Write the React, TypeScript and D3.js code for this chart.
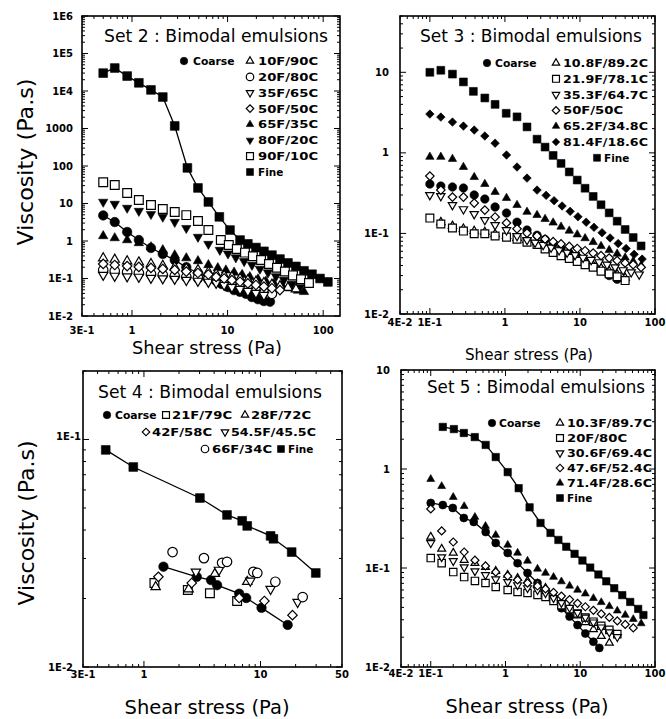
import React from "react";
import * as d3 from "d3";

// ================= Set 2 data (shear stress Pa, viscosity Pa.s) =================
const s2CoarseX = [0.5, 0.66, 0.89, 1.18, 1.58, 2.1, 2.8, 3.7, 4.9, 6.3, 7.6, 8.7, 10.1, 11.7, 13.5, 15.6, 18, 20.8, 24, 27.8];
const s2CoarseY = [4.8, 3.2, 1.74, 1.06, 0.65, 0.45, 0.31, 0.2, 0.14, 0.103, 0.086, 0.071, 0.059, 0.049, 0.044, 0.039, 0.032, 0.028, 0.025, 0.024];
const s2F10X = [0.5, 0.66, 0.89, 1.18, 1.58, 2.1, 2.8, 3.7, 4.9, 6.3, 7.6, 9.2, 11.1, 13.5, 16.3, 19.8, 24, 29.1, 35.3, 42.8, 51.9];
const s2F10Y = [0.35, 0.32, 0.29, 0.27, 0.244, 0.22, 0.2, 0.185, 0.169, 0.15, 0.132, 0.12, 0.11, 0.1, 0.091, 0.083, 0.076, 0.069, 0.063, 0.057, 0.052];
const s2F20X = [0.5, 0.66, 0.89, 1.18, 1.58, 2.1, 2.8, 3.7, 4.9, 6.3, 7.6, 9.2, 11.1, 13.5, 16.3, 19.8, 24, 29.1];
const s2F20Y = [0.169, 0.158, 0.149, 0.14, 0.132, 0.124, 0.117, 0.11, 0.103, 0.097, 0.091, 0.081, 0.071, 0.063, 0.056, 0.049, 0.044, 0.039];
const s2F35X = [0.5, 0.66, 0.89, 1.18, 1.58, 2.1, 2.8, 3.7, 4.9, 6.3, 7.6, 9.2, 11.1, 13.5, 16.3, 19.8, 24];
const s2F35Y = [0.124, 0.117, 0.113, 0.11, 0.103, 0.1, 0.097, 0.091, 0.086, 0.081, 0.076, 0.067, 0.059, 0.052, 0.046, 0.041, 0.036];
const s2F50X = [0.5, 0.66, 0.89, 1.18, 1.58, 2.1, 2.8, 3.7, 4.9, 6.3, 7.6, 9.2, 11.1, 13.5, 16.3, 19.8, 24, 29.1, 35.3];
const s2F50Y = [0.244, 0.229, 0.215, 0.203, 0.191, 0.18, 0.169, 0.153, 0.14, 0.128, 0.11, 0.1, 0.09, 0.082, 0.074, 0.067, 0.061, 0.055, 0.049];
const s2F65X = [0.5, 0.66, 0.89, 1.18, 1.58, 2.1, 2.8, 3.7, 4.9, 6.3, 7.9, 9.6, 11.7, 14.2, 17.1, 20.8, 25.2, 30.6, 37.1, 45, 54.5, 63];
const s2F65Y = [1.36, 1.2, 1.06, 0.885, 0.69, 0.575, 0.42, 0.35, 0.293, 0.23, 0.191, 0.166, 0.145, 0.126, 0.11, 0.096, 0.084, 0.073, 0.064, 0.055, 0.048, 0.044];
const s2F80X = [0.5, 0.66, 0.89, 1.18, 1.58, 2.1, 2.8, 3.7, 4.9, 6.3, 8.3, 10.1, 12.2, 14.9, 18, 21.8, 26.5, 32.1, 38.9, 47.2, 57.1];
const s2F80Y = [11, 9.7, 7.6, 6.3, 5.2, 4.4, 3.2, 2.2, 1.28, 0.83, 0.575, 0.46, 0.363, 0.288, 0.229, 0.181, 0.144, 0.114, 0.091, 0.072, 0.058];
const s2F90X = [0.5, 0.66, 0.89, 1.18, 1.58, 2.1, 2.8, 3.7, 4.9, 6.3, 8.5, 10.3, 12.5, 15.2, 18.4, 22.4, 27.1, 32.9, 39.8, 48.3, 58.6, 71];
const s2F90Y = [37, 31, 19, 12.4, 9.1, 7.1, 5.9, 4.9, 3.4, 1.96, 1.06, 0.78, 0.61, 0.49, 0.39, 0.31, 0.244, 0.194, 0.153, 0.121, 0.096, 0.076];
const s2FineX = [0.5, 0.66, 0.89, 1.18, 1.58, 2.1, 2.8, 3.8, 4.9, 6.3, 8.2, 10.6, 13.5, 16.3, 19.8, 24, 29.1, 35.3, 42.8, 51.9, 63, 76.4, 92.7, 112];
const s2FineY = [30000, 41000, 25000, 16500, 10700, 6900, 1170, 89, 26, 11, 4.4, 1.96, 1.06, 0.84, 0.67, 0.53, 0.42, 0.33, 0.26, 0.21, 0.16, 0.13, 0.1, 0.081];

// ================= Set 3 data =================
const s3CoarseX = [0.1, 0.14, 0.2, 0.28, 0.39, 0.54, 0.74, 1.05, 1.45, 1.97, 2.68, 3.43, 4.39, 5.6, 7.2, 9.2, 11.7, 15, 19.1, 24.5, 31.3];
const s3CoarseY = [0.41, 0.387, 0.377, 0.366, 0.3, 0.267, 0.213, 0.179, 0.138, 0.11, 0.095, 0.084, 0.074, 0.065, 0.057, 0.051, 0.045, 0.039, 0.035, 0.03, 0.027];
const s3F10X = [0.14, 0.2, 0.28, 0.39, 0.54, 0.74, 1.05, 1.45, 1.97, 2.68, 3.43, 4.39, 5.6, 7.2, 9.2, 11.7, 15, 19.1, 24.5, 31.3, 40];
const s3F10Y = [0.138, 0.124, 0.114, 0.107, 0.104, 0.098, 0.093, 0.088, 0.083, 0.078, 0.07, 0.064, 0.058, 0.053, 0.048, 0.044, 0.04, 0.037, 0.034, 0.031, 0.028];
const s3F21X = [0.1, 0.14, 0.2, 0.28, 0.39, 0.54, 0.74, 1.05, 1.45, 1.97, 2.68, 3.43, 4.39, 5.6, 7.2, 9.2, 11.7, 15, 19.1, 24.5, 31.3, 40];
const s3F21Y = [0.155, 0.131, 0.117, 0.107, 0.099, 0.099, 0.093, 0.09, 0.085, 0.078, 0.073, 0.064, 0.058, 0.053, 0.049, 0.045, 0.041, 0.038, 0.034, 0.0315, 0.029, 0.026];
const s3F35X = [0.1, 0.14, 0.2, 0.28, 0.39, 0.54, 0.74, 1.05, 1.45, 1.97, 2.52, 3.23, 4.12, 5.27, 6.74, 8.6, 11, 14.1, 18, 23, 29.4, 37.6, 48.1, 61.5];
const s3F35Y = [0.3, 0.291, 0.225, 0.2, 0.174, 0.147, 0.127, 0.11, 0.093, 0.083, 0.077, 0.072, 0.067, 0.062, 0.058, 0.054, 0.05, 0.047, 0.044, 0.041, 0.038, 0.035, 0.033, 0.031];
const s3F50X = [0.1, 0.14, 0.2, 0.28, 0.39, 0.54, 0.74, 1.05, 1.45, 1.97, 2.68, 3.43, 4.39, 5.6, 7.2, 9.2, 11.7, 15, 19.1, 24.5, 31.3, 40, 51.2, 65.3];
const s3F50Y = [0.515, 0.345, 0.283, 0.283, 0.238, 0.195, 0.16, 0.135, 0.114, 0.101, 0.093, 0.085, 0.079, 0.074, 0.069, 0.065, 0.061, 0.057, 0.053, 0.0495, 0.046, 0.043, 0.041, 0.038];
const s3F65X = [0.1, 0.14, 0.2, 0.28, 0.39, 0.54, 0.74, 1.05, 1.45, 1.97, 2.68, 3.43, 4.39, 5.6, 7.2, 9.2, 11.7, 15, 19.1, 24.5, 31.3, 40, 51.2, 65.3];
const s3F65Y = [0.89, 0.89, 0.84, 0.667, 0.5, 0.41, 0.327, 0.275, 0.225, 0.185, 0.169, 0.151, 0.136, 0.121, 0.108, 0.097, 0.087, 0.078, 0.0695, 0.062, 0.056, 0.05, 0.045, 0.04];
const s3F81X = [0.1, 0.14, 0.2, 0.28, 0.39, 0.54, 0.74, 1.05, 1.45, 1.97, 2.68, 3.54, 4.52, 5.78, 7.4, 9.4, 12.1, 15.4, 19.7, 25.2, 32.3, 41.2, 52.7, 67.4];
const s3F81Y = [3.03, 2.78, 2.41, 2.15, 1.92, 1.62, 1.32, 0.94, 0.667, 0.486, 0.345, 0.297, 0.255, 0.219, 0.188, 0.161, 0.138, 0.119, 0.102, 0.088, 0.075, 0.065, 0.055, 0.048];
const s3FineX = [0.1, 0.14, 0.2, 0.28, 0.38, 0.54, 0.74, 1.04, 1.45, 1.97, 2.68, 3.43, 4.39, 5.6, 7.2, 9.2, 11.7, 15, 19.1, 24.5, 31.3, 40, 51.2, 65.3];
const s3FineY = [10, 10.6, 9.5, 7.6, 5.8, 4.8, 4.0, 3.1, 2.8, 2.1, 1.48, 1.18, 0.93, 0.74, 0.58, 0.46, 0.364, 0.288, 0.227, 0.18, 0.142, 0.112, 0.089, 0.07];

// ================= Set 4 data =================
const s4CoarseX = [1.47, 2.84, 3.76, 4.24, 6.56, 7.54, 10.2, 17.1];
const s4CoarseY = [0.0276, 0.0249, 0.0241, 0.0229, 0.021, 0.0201, 0.0182, 0.0153];
const s4F21X = [1.23, 2.38, 3.68, 6.3];
const s4F21Y = [0.0234, 0.0218, 0.0211, 0.0195];
const s4F28X = [1.26, 2.42, 4.06, 7.69];
const s4F28Y = [0.0225, 0.022, 0.0257, 0.0237];
const s4F42X = [1.33, 2.57, 6.56, 10.8, 18.8];
const s4F42Y = [0.0249, 0.0234, 0.0201, 0.0195, 0.0169];
const s4F54X = [2.79, 4.4, 8.17, 12.2, 20.8];
const s4F54Y = [0.0262, 0.0267, 0.0239, 0.022, 0.0193];
const s4F66X = [1.76, 3.27, 4.68, 5.16, 8.67, 9.38, 13.4, 23];
const s4F66Y = [0.032, 0.0301, 0.0287, 0.029, 0.0262, 0.0259, 0.0237, 0.0203];
const s4FineX = [0.47, 0.81, 3.02, 5.16, 6.96, 7.69, 12.2, 12.9, 18.5, 29.8];
const s4FineY = [0.09, 0.0757, 0.0553, 0.0466, 0.0439, 0.0417, 0.0377, 0.0366, 0.032, 0.0259];

// ================= Set 5 data =================
const s5CoarseX = [0.1, 0.145, 0.197, 0.277, 0.376, 0.543, 0.74, 1.07, 1.45, 1.97, 2.68, 3.43, 4.39, 5.6, 7.2, 9.2, 11.7, 15, 18];
const s5CoarseY = [0.454, 0.432, 0.404, 0.32, 0.292, 0.231, 0.179, 0.142, 0.112, 0.089, 0.0705, 0.058, 0.0478, 0.0393, 0.0323, 0.0265, 0.0218, 0.018, 0.0156];
const s5F10X = [0.1, 0.14, 0.2, 0.28, 0.39, 0.54, 0.74, 1.07, 1.45, 1.97, 2.68, 3.43, 4.39, 5.6, 7.2, 9.2, 11.7, 15, 19.1, 24.5];
const s5F10Y = [0.206, 0.156, 0.142, 0.12, 0.112, 0.102, 0.093, 0.085, 0.079, 0.074, 0.069, 0.0628, 0.0535, 0.0456, 0.0389, 0.0331, 0.0283, 0.024, 0.0205, 0.0175];
const s5F20X = [0.1, 0.14, 0.2, 0.28, 0.39, 0.54, 0.74, 1.07, 1.45, 1.97, 2.68, 3.43, 4.39, 5.6, 7.2, 9.2, 11.7, 15, 19.1, 24.5, 31.3];
const s5F20Y = [0.126, 0.112, 0.091, 0.081, 0.074, 0.0705, 0.0643, 0.06, 0.0573, 0.0559, 0.0535, 0.0509, 0.0464, 0.0421, 0.0383, 0.0347, 0.0316, 0.0287, 0.0261, 0.0237, 0.0215];
const s5F30X = [0.1, 0.14, 0.2, 0.28, 0.39, 0.54, 0.74, 1.07, 1.45, 1.97, 2.68, 3.43, 4.39, 5.6, 7.2, 9.2, 11.7, 15, 19.1, 24.5, 31.3];
const s5F30Y = [0.179, 0.129, 0.118, 0.102, 0.093, 0.085, 0.077, 0.0723, 0.0673, 0.0628, 0.06, 0.0559, 0.0499, 0.0445, 0.0397, 0.0354, 0.0317, 0.0283, 0.0252, 0.0225, 0.0201];
const s5F47X = [0.1, 0.14, 0.2, 0.28, 0.39, 0.54, 0.74, 1.07, 1.45, 1.97, 2.68, 3.43, 4.39, 5.6, 7.2, 9.2, 11.7, 15, 19.1, 24.5, 31.3, 40, 51.2];
const s5F47Y = [0.395, 0.237, 0.183, 0.145, 0.12, 0.105, 0.091, 0.083, 0.0757, 0.0705, 0.0658, 0.0614, 0.0566, 0.052, 0.048, 0.044, 0.0406, 0.0374, 0.0344, 0.0317, 0.0292, 0.0269, 0.0248];
const s5F71X = [0.1, 0.14, 0.2, 0.28, 0.39, 0.54, 0.74, 1.07, 1.45, 1.97, 2.68, 3.43, 4.39, 5.6, 7.2, 9.2, 11.7, 15, 19.1, 24.5, 31.3, 40, 51.2, 65.3];
const s5F71Y = [0.79, 0.67, 0.52, 0.42, 0.327, 0.265, 0.215, 0.171, 0.142, 0.118, 0.098, 0.089, 0.081, 0.073, 0.066, 0.06, 0.055, 0.0495, 0.045, 0.041, 0.037, 0.0335, 0.0304, 0.0275];
const s5FineX = [0.145, 0.204, 0.277, 0.388, 0.543, 0.74, 1.07, 1.5, 2.1, 2.94, 4.0, 5.1, 6.5, 8.4, 10.7, 13.6, 17.5, 22.3, 28.5, 36.5, 46.6, 59.6, 70];
const s5FineY = [2.66, 2.53, 2.31, 2.1, 1.75, 1.32, 0.93, 0.64, 0.41, 0.285, 0.226, 0.192, 0.164, 0.139, 0.119, 0.101, 0.086, 0.0734, 0.0625, 0.0532, 0.0454, 0.0386, 0.0335];

// ================= Tick labels =================
const set2YTicks = [1e-2, 1e-1, 1, 10, 100, 1000, 1e4, 1e5, 1e6];
const set2YLabels = ["1E-2", "1E-1", "1", "10", "100", "1000", "1E4", "1E5", "1E6"];
const set2XTicks = [0.3, 1, 10, 100];
const set2XLabels = ["3E-1", "1", "10", "100"];
const set3YTicks = [1e-2, 1e-1, 1, 10];
const set3YLabels = ["1E-2", "1E-1", "1", "10"];
const set35XTicks = [0.04, 0.1, 1, 10, 100];
const set35XLabels = ["4E-2", "1E-1", "1", "10", "100"];
const set4YTicks = [1e-2, 1e-1];
const set4YLabels = ["1E-2", "1E-1"];
const set4XTicks = [0.3, 1, 10, 50];
const set4XLabels = ["3E-1", "1", "10", "50"];
const set5YTicks = [1e-2, 1e-1, 1, 10];
const set5YLabels = ["1E-2", "1E-1", "1", "10"];

type Shape = "circle" | "square" | "triangle" | "triangleDown" | "diamond";
interface Series { name: string; shape: Shape; filled: boolean; x: number[]; y: number[]; line?: boolean; }

const set2Series: Series[] = [
  { name: "Coarse", shape: "circle", filled: true, x: s2CoarseX, y: s2CoarseY, line: true },
  { name: "10F/90C", shape: "triangle", filled: false, x: s2F10X, y: s2F10Y },
  { name: "20F/80C", shape: "circle", filled: false, x: s2F20X, y: s2F20Y },
  { name: "35F/65C", shape: "triangleDown", filled: false, x: s2F35X, y: s2F35Y },
  { name: "50F/50C", shape: "diamond", filled: false, x: s2F50X, y: s2F50Y },
  { name: "65F/35C", shape: "triangle", filled: true, x: s2F65X, y: s2F65Y },
  { name: "80F/20C", shape: "triangleDown", filled: true, x: s2F80X, y: s2F80Y },
  { name: "90F/10C", shape: "square", filled: false, x: s2F90X, y: s2F90Y },
  { name: "Fine", shape: "square", filled: true, x: s2FineX, y: s2FineY, line: true },
];
const set3Series: Series[] = [
  { name: "Coarse", shape: "circle", filled: true, x: s3CoarseX, y: s3CoarseY },
  { name: "10.8F/89.2C", shape: "triangle", filled: false, x: s3F10X, y: s3F10Y },
  { name: "21.9F/78.1C", shape: "square", filled: false, x: s3F21X, y: s3F21Y },
  { name: "35.3F/64.7C", shape: "triangleDown", filled: false, x: s3F35X, y: s3F35Y },
  { name: "50F/50C", shape: "diamond", filled: false, x: s3F50X, y: s3F50Y },
  { name: "65.2F/34.8C", shape: "triangle", filled: true, x: s3F65X, y: s3F65Y },
  { name: "81.4F/18.6C", shape: "diamond", filled: true, x: s3F81X, y: s3F81Y },
  { name: "Fine", shape: "square", filled: true, x: s3FineX, y: s3FineY },
];
const set4Series: Series[] = [
  { name: "Coarse", shape: "circle", filled: true, x: s4CoarseX, y: s4CoarseY, line: true },
  { name: "21F/79C", shape: "square", filled: false, x: s4F21X, y: s4F21Y },
  { name: "28F/72C", shape: "triangle", filled: false, x: s4F28X, y: s4F28Y },
  { name: "42F/58C", shape: "diamond", filled: false, x: s4F42X, y: s4F42Y },
  { name: "54.5F/45.5C", shape: "triangleDown", filled: false, x: s4F54X, y: s4F54Y },
  { name: "66F/34C", shape: "circle", filled: false, x: s4F66X, y: s4F66Y },
  { name: "Fine", shape: "square", filled: true, x: s4FineX, y: s4FineY, line: true },
];
const set5Series: Series[] = [
  { name: "Coarse", shape: "circle", filled: true, x: s5CoarseX, y: s5CoarseY, line: true },
  { name: "10.3F/89.7C", shape: "triangle", filled: false, x: s5F10X, y: s5F10Y },
  { name: "20F/80C", shape: "square", filled: false, x: s5F20X, y: s5F20Y },
  { name: "30.6F/69.4C", shape: "triangleDown", filled: false, x: s5F30X, y: s5F30Y },
  { name: "47.6F/52.4C", shape: "diamond", filled: false, x: s5F47X, y: s5F47Y },
  { name: "71.4F/28.6C", shape: "triangle", filled: true, x: s5F71X, y: s5F71Y },
  { name: "Fine", shape: "square", filled: true, x: s5FineX, y: s5FineY, line: true },
];

// ================= layout / rendering =================
const FONT = "'DejaVu Sans', 'Liberation Sans', sans-serif";

function symPath(shape: Shape, s: number): string {
  const g = d3.symbol();
  if (shape === "circle") return g.type(d3.symbolCircle).size(Math.PI * (s / 2) * (s / 2))() as string;
  if (shape === "square") return g.type(d3.symbolSquare).size(s * s * 0.85)() as string;
  if (shape === "diamond") return g.type(d3.symbolSquare).size(s * s * 0.5)() as string;
  return g.type(d3.symbolTriangle).size(s * s * 0.42)() as string;
}
function symRot(shape: Shape) {
  if (shape === "triangleDown") return 180;
  if (shape === "diamond") return 45;
  return 0;
}
function Marker({ shape, filled, cx, cy, s }: { shape: Shape; filled: boolean; cx: number; cy: number; s: number }) {
  return (
    <path
      d={symPath(shape, s)}
      transform={`translate(${cx},${cy}) rotate(${symRot(shape)})`}
      fill={filled ? "#000" : "#fff"}
      stroke="#000"
      strokeWidth={filled ? 0.6 : 1.2}
    />
  );
}

function labelWidth(t: string, fs: number) {
  let w = 0;
  for (const ch of t) {
    if (/[0-9]/.test(ch)) w += 0.8;
    else if (ch === ".") w += 0.33;
    else if (ch === "/") w += 0.7;
    else if (ch === "i") w += 0.32;
    else if (/[A-Z]/.test(ch)) w += 0.78;
    else w += 0.6;
  }
  return w * fs;
}

function logTicks(domain: [number, number]) {
  const out: { v: number; major: boolean }[] = [];
  const e0 = Math.floor(Math.log10(domain[0]));
  const e1 = Math.ceil(Math.log10(domain[1]));
  for (let e = e0; e <= e1; e++) {
    for (let m = 1; m <= 9; m++) {
      const v = m * Math.pow(10, e);
      if (v >= domain[0] * 0.999 && v <= domain[1] * 1.001) out.push({ v, major: m === 1 });
    }
  }
  return out;
}

interface PanelCfg {
  left: number; right: number; top: number; bottom: number;
  xDomain: [number, number]; yDomain: [number, number];
  xTicks: number[]; xLabels: string[]; xLabelY: number;
  yTicks: number[]; yLabels: string[]; yLabelX: number; yLabelShift?: [number, number][];
  series: Series[]; sym: number;
  legend: [number, number, number][];
  title: string; titleX: number; titleY: number; titleW: number;
  xTitleX: number; xTitleY: number; xTitleW: number; xTitleFs: number;
  yTitle?: { x: number; cy: number; w: number; fs: number };
}

function Panel({ p }: { p: PanelCfg }) {
  const xs = d3.scaleLog().domain(p.xDomain).range([p.left, p.right]);
  const ys = d3.scaleLog().domain(p.yDomain).range([p.bottom, p.top]);
  const xt = logTicks(p.xDomain);
  const yt = logTicks(p.yDomain);
  const line = d3.line<[number, number]>().x((d) => xs(d[0])).y((d) => ys(d[1]));
  const order = p.series.map((s, i) => i).sort((a, b) => Number(p.series[b].filled) - Number(p.series[a].filled));
  return (
    <g>
      {p.series.map((s, si) =>
        s.line ? (
          <path key={"ln" + si} d={line(s.x.map((v, i) => [v, s.y[i]] as [number, number])) || ""} fill="none" stroke="#000" strokeWidth={1.3} />
        ) : null
      )}
      {order.map((si) => {
        const s = p.series[si];
        return (
          <g key={"s" + si}>
            {s.x.map((v, i) => (
              <Marker key={i} shape={s.shape} filled={s.filled} cx={xs(v)} cy={ys(s.y[i])} s={p.sym} />
            ))}
          </g>
        );
      })}
      <rect x={p.left} y={p.top} width={p.right - p.left} height={p.bottom - p.top} fill="none" stroke="#000" strokeWidth={1.6} />
      {xt.map((t, i) => (
        <g key={"xt" + i} stroke="#000" strokeWidth={1}>
          <line x1={xs(t.v)} x2={xs(t.v)} y1={p.bottom} y2={p.bottom - (t.major ? 6 : 3)} />
          <line x1={xs(t.v)} x2={xs(t.v)} y1={p.top} y2={p.top + (t.major ? 6 : 3)} />
        </g>
      ))}
      {yt.map((t, i) => (
        <g key={"yt" + i} stroke="#000" strokeWidth={1}>
          <line x1={p.left} x2={p.left + (t.major ? 6 : 3)} y1={ys(t.v)} y2={ys(t.v)} />
          <line x1={p.right} x2={p.right - (t.major ? 6 : 3)} y1={ys(t.v)} y2={ys(t.v)} />
        </g>
      ))}
      {p.xTicks.map((v, i) => (
        <text key={"xl" + i} x={xs(v)} y={p.xLabelY} textAnchor="middle" fontFamily={FONT} fontWeight="bold" fontSize={10}>
          {p.xLabels[i]}
        </text>
      ))}
      {p.yTicks.map((v, i) => {
        const sh = p.yLabelShift ? p.yLabelShift[i] : [0, 0];
        return (
          <text key={"yl" + i} x={p.yLabelX + sh[0]} y={ys(v) + 3.5 + sh[1]} textAnchor="end" fontFamily={FONT} fontWeight="bold" fontSize={10}>
            {p.yLabels[i]}
          </text>
        );
      })}
      {p.series.map((s, si) => {
        const [sx, sy, tx] = p.legend[si];
        return (
          <g key={"lg" + si}>
            <Marker shape={s.shape} filled={s.filled} cx={sx} cy={sy} s={7.5} />
            <text x={tx} y={sy + 4} fontFamily={FONT} fontWeight="bold" fontSize={11} textLength={labelWidth(s.name, 11)} lengthAdjust="spacingAndGlyphs">
              {s.name}
            </text>
          </g>
        );
      })}
      <text x={p.titleX} y={p.titleY} fontFamily={FONT} fontSize={17} textLength={p.titleW} lengthAdjust="spacingAndGlyphs">
        {p.title}
      </text>
      <text x={p.xTitleX} y={p.xTitleY} textAnchor="middle" fontFamily={FONT} fontSize={p.xTitleFs} textLength={p.xTitleW} lengthAdjust="spacingAndGlyphs">
        Shear stress (Pa)
      </text>
      {p.yTitle ? (
        <text
          transform={`translate(${p.yTitle.x},${p.yTitle.cy}) rotate(-90)`}
          textAnchor="middle"
          fontFamily={FONT}
          fontSize={p.yTitle.fs}
          textLength={p.yTitle.w}
          lengthAdjust="spacingAndGlyphs"
        >
          Viscosity (Pa.s)
        </text>
      ) : null}
    </g>
  );
}

const panels: PanelCfg[] = [
  {
    left: 82, right: 340, top: 16, bottom: 316,
    xDomain: [0.3, 150], yDomain: [0.01, 1e6],
    xTicks: set2XTicks, xLabels: set2XLabels, xLabelY: 334,
    yTicks: set2YTicks, yLabels: set2YLabels, yLabelX: 73,
    series: set2Series, sym: 9.5,
    legend: [[184, 61, 193], [250, 61, 258], [250, 76.9, 258], [250, 92.7, 258], [250, 108.6, 258], [250, 124.4, 258], [250, 140.3, 258], [250, 156.1, 258], [250, 172, 258]],
    title: "Set 2 : Bimodal emulsions", titleX: 104, titleY: 42, titleW: 224,
    xTitleX: 207, xTitleY: 354, xTitleW: 150, xTitleFs: 18,
    yTitle: { x: 33, cy: 162, w: 167, fs: 21 },
  },
  {
    left: 400, right: 655, top: 16, bottom: 314,
    xDomain: [0.04, 100], yDomain: [0.01, 50],
    xTicks: set35XTicks, xLabels: set35XLabels, xLabelY: 326,
    yTicks: set3YTicks, yLabels: set3YLabels, yLabelX: 389,
    series: set3Series, sym: 8.5,
    legend: [[487, 63, 495], [556, 63, 563], [556, 78.8, 563], [556, 94.6, 563], [556, 110.4, 563], [556, 126.2, 563], [556, 142, 563], [597, 157.8, 604]],
    title: "Set 3 : Bimodal emulsions", titleX: 420, titleY: 42, titleW: 222,
    xTitleX: 529, xTitleY: 360, xTitleW: 128, xTitleFs: 16.5,
  },
  {
    left: 83, right: 342, top: 371, bottom: 667,
    xDomain: [0.3, 50], yDomain: [0.01, 0.2],
    xTicks: set4XTicks, xLabels: set4XLabels, xLabelY: 678,
    yTicks: set4YTicks, yLabels: set4YLabels, yLabelX: 73, yLabelShift: [[0, 0], [8, -3]],
    series: set4Series, sym: 9.5,
    legend: [[107, 415, 115], [166, 415, 172], [245, 415, 251], [146, 432, 152], [225, 432, 231], [205, 449, 212], [281, 449, 288]],
    title: "Set 4 : Bimodal emulsions", titleX: 98, titleY: 398, titleW: 224,
    xTitleX: 207, xTitleY: 714, xTitleW: 165, xTitleFs: 19.5,
    yTitle: { x: 34, cy: 523, w: 165, fs: 21 },
  },
  {
    left: 401, right: 655, top: 370, bottom: 667,
    xDomain: [0.04, 100], yDomain: [0.01, 10],
    xTicks: set35XTicks, xLabels: set35XLabels, xLabelY: 677,
    yTicks: set5YTicks, yLabels: set5YLabels, yLabelX: 390,
    series: set5Series, sym: 8,
    legend: [[492, 423, 499], [560, 423, 567], [560, 438, 567], [560, 453, 567], [560, 468, 567], [560, 483, 567], [560, 498, 567]],
    title: "Set 5 : Bimodal emulsions", titleX: 427, titleY: 393, titleW: 218,
    xTitleX: 527, xTitleY: 713, xTitleW: 163, xTitleFs: 19.5,
  },
];

export default function App() {
  return (
    <svg width={666} height={719} style={{ position: "absolute", left: 0, top: 0, background: "#fff" }}>
      <rect x={0} y={0} width={666} height={719} fill="#fff" />
      {panels.map((p, i) => (
        <Panel key={i} p={p} />
      ))}
    </svg>
  );
}
